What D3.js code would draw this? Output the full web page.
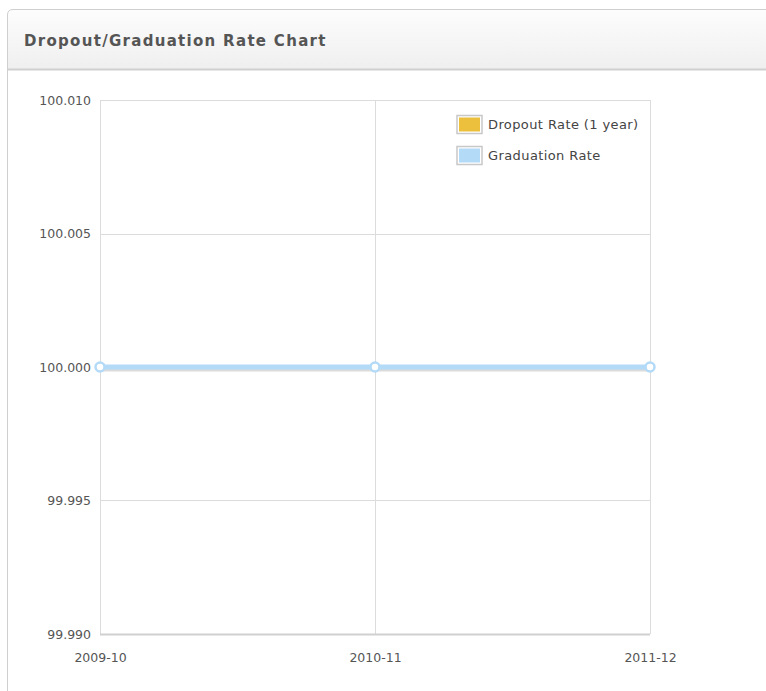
<!DOCTYPE html>
<html><head><meta charset="utf-8">
<script src="https://cdn.jsdelivr.net/npm/d3@7"></script>
<style>
html,body{margin:0;padding:0;background:#fff;}
svg{display:block;}
</style></head>
<body>
<script>
const categories = ["2009-10", "2010-11", "2011-12"];
const yTicks = [99.990, 99.995, 100.000, 100.005, 100.010];
const dropoutRate = [null, null, null];
const graduationRate = [100, 100, 100];
const seriesNames = ["Dropout Rate (1 year)", "Graduation Rate"];
const seriesColors = ["#ecc03c", "#b3daf7"];

const W = 766, H = 691;
const FONT = "'DejaVu Sans',Verdana,sans-serif";
const svg = d3.select("body").append("svg").attr("width", W).attr("height", H);
const defs = svg.append("defs");
const grad = defs.append("linearGradient").attr("id","hdr").attr("x1",0).attr("y1",0).attr("x2",0).attr("y2",1);
grad.append("stop").attr("offset","0%").attr("stop-color","#fdfdfd");
grad.append("stop").attr("offset","100%").attr("stop-color","#efefef");

svg.append("path").attr("d", `M8,${69} L8,15 Q8,10 13,10 L${W},10 L${W},69 Z`).attr("fill","url(#hdr)");
svg.append("path").attr("d", `M7.5,${H+5} L7.5,15 Q7.5,9.5 13,9.5 L${W+5},9.5`).attr("fill","none").attr("stroke","#cfcfcf");
svg.append("line").attr("x1",8).attr("x2",W).attr("y1",69.5).attr("y2",69.5).attr("stroke","#cfcfcf").attr("stroke-width",2);
svg.append("text").attr("x",24).attr("y",46).text("Dropout/Graduation Rate Chart")
  .attr("font-family",FONT).attr("font-weight","bold").attr("font-size","15px")
  .attr("letter-spacing","1.3px").attr("fill","#555");

const m = {l:100, r:650, t:100, b:634};
const x = d3.scalePoint().domain(categories).range([m.l, m.r]);
const y = d3.scaleLinear().domain([99.990, 100.010]).range([m.b, m.t]);

const g = svg.append("g");
g.selectAll(".hg").data(yTicks).enter().append("line")
  .attr("x1",m.l).attr("x2",m.r).attr("y1",d=>Math.round(y(d))+0.5).attr("y2",d=>Math.round(y(d))+0.5)
  .attr("stroke","#dcdcdc");
g.selectAll(".vg").data(categories).enter().append("line")
  .attr("y1",m.t).attr("y2",m.b).attr("x1",d=>Math.round(x(d))+0.5).attr("x2",d=>Math.round(x(d))+0.5)
  .attr("stroke","#dcdcdc");
g.append("line").attr("x1",m.l).attr("x2",m.r).attr("y1",m.b+0.5).attr("y2",m.b+0.5).attr("stroke","#d0d0d0").attr("stroke-width",2);

const yAxis = d3.axisLeft(y).tickValues(yTicks).tickFormat(d3.format(".3f")).tickSize(0).tickPadding(9);
const ya = svg.append("g").attr("transform",`translate(${m.l},0)`).call(yAxis);
ya.select(".domain").remove();
ya.selectAll("text").attr("font-family",FONT).attr("font-size","12.5px").attr("fill","#555");
const xAxis = d3.axisBottom(x).tickSize(0).tickPadding(19);
const xa = svg.append("g").attr("transform",`translate(0,${m.b})`).call(xAxis);
xa.select(".domain").remove();
xa.selectAll("text").attr("font-family",FONT).attr("font-size","12.5px").attr("fill","#555");

const line = d3.line().defined(d=>d.v!=null).x(d=>x(d.c)).y(d=>y(d.v));
const gd = categories.map((c,i)=>({c, v: graduationRate[i]}));
svg.append("path").datum(gd).attr("d",line).attr("transform","translate(0,2)")
  .attr("fill","none").attr("stroke","rgba(0,0,0,0.14)").attr("stroke-width",5);
svg.append("path").datum(gd).attr("d",line).attr("fill","none").attr("stroke",seriesColors[1]).attr("stroke-width",5);
svg.selectAll(".pt").data(gd.filter(d=>d.v!=null)).enter().append("circle")
  .attr("cx",d=>x(d.c)).attr("cy",d=>y(d.v)).attr("r",4.5).attr("fill","#fff").attr("stroke",seriesColors[1]).attr("stroke-width",2.5);

const lg = svg.append("g");
seriesNames.forEach((n,i)=>{
  const yy = 115 + i*31;
  lg.append("rect").attr("x",457).attr("y",yy+0.5).attr("width",25).attr("height",18).attr("fill","#fff").attr("stroke","#c8c8c8").attr("stroke-width",1.5);
  lg.append("rect").attr("x",459).attr("y",yy+2.5).attr("width",21).attr("height",14).attr("fill",seriesColors[i]);
  lg.append("text").attr("x",488).attr("y",yy+14).text(n)
    .attr("font-family",FONT).attr("font-size","13px").attr("letter-spacing","0.4px").attr("fill","#444");
});
</script>
</body></html>
